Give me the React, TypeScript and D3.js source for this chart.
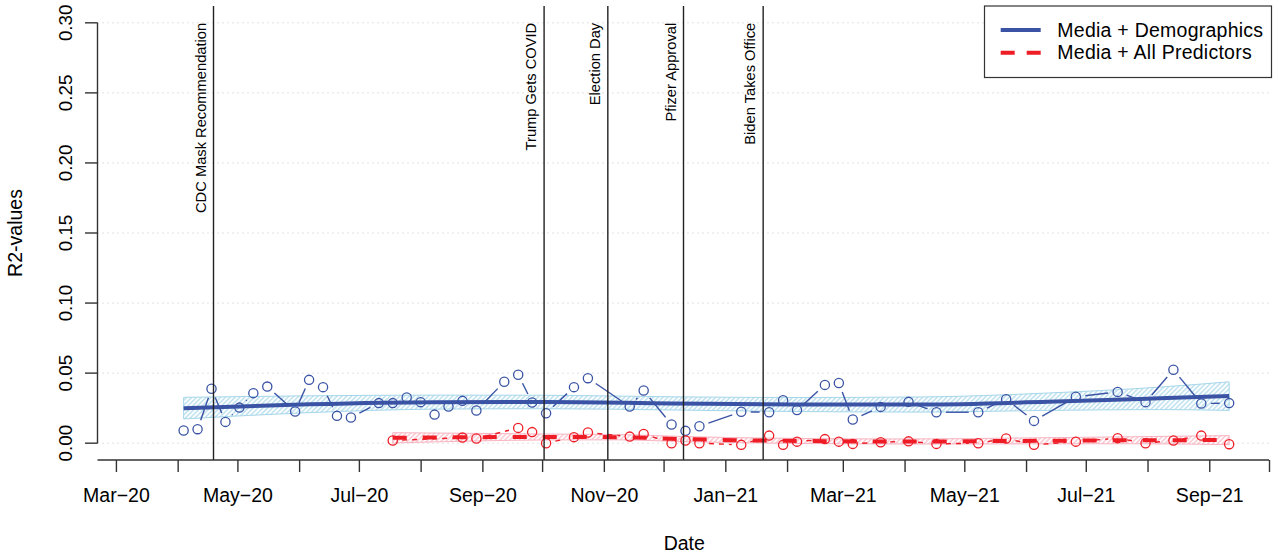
import { useEffect, useRef } from "react";
import * as d3 from "d3";

// weekly R2 values, Media + Demographics
const blueDates = [
  "2020-04-04", "2020-04-11", "2020-04-18", "2020-04-25", "2020-05-02", "2020-05-09", "2020-05-16",
  "2020-05-30", "2020-06-06", "2020-06-13", "2020-06-20", "2020-06-27", "2020-07-11", "2020-07-18",
  "2020-07-25", "2020-08-01", "2020-08-08", "2020-08-15", "2020-08-22", "2020-08-29", "2020-09-12",
  "2020-09-19", "2020-09-26", "2020-10-03", "2020-10-17", "2020-10-24", "2020-11-14", "2020-11-21",
  "2020-12-05", "2020-12-12", "2020-12-19", "2021-01-09", "2021-01-23", "2021-01-30", "2021-02-06",
  "2021-02-20", "2021-02-27", "2021-03-06", "2021-03-20", "2021-04-03", "2021-04-17", "2021-05-08",
  "2021-05-22", "2021-06-05", "2021-06-26", "2021-07-17", "2021-07-31", "2021-08-14", "2021-08-28",
  "2021-09-11",
];
const blueValues = [
  0.009, 0.01, 0.0388, 0.0152, 0.0254, 0.0357, 0.0404,
  0.0226, 0.0452, 0.04, 0.0195, 0.0183, 0.0286, 0.0286,
  0.0326, 0.0293, 0.0204, 0.0261, 0.0302, 0.0233, 0.0438,
  0.0488, 0.029, 0.0214, 0.04, 0.0464, 0.0261, 0.0376,
  0.0133, 0.0088, 0.0121, 0.0224, 0.0221, 0.0307, 0.0236,
  0.0416, 0.0429, 0.0169, 0.0259, 0.0295, 0.0221, 0.0221,
  0.0314, 0.0159, 0.0331, 0.0366, 0.0293, 0.0524, 0.0283,
  0.0286,
];

// weekly R2 values, Media + All Predictors
const redDates = [
  "2020-07-18", "2020-08-22", "2020-08-29", "2020-09-19", "2020-09-26", "2020-10-03", "2020-10-17",
  "2020-10-24", "2020-11-14", "2020-11-21", "2020-12-05", "2020-12-12", "2020-12-19", "2021-01-09",
  "2021-01-23", "2021-01-30", "2021-02-06", "2021-02-20", "2021-02-27", "2021-03-06", "2021-03-20",
  "2021-04-03", "2021-04-17", "2021-05-08", "2021-05-22", "2021-06-05", "2021-06-26", "2021-07-17",
  "2021-07-31", "2021-08-14", "2021-08-28", "2021-09-11",
];
const redValues = [
  0.0019, 0.004, 0.0033, 0.0109, 0.0079, 0.0, 0.0043,
  0.0076, 0.0047, 0.0066, 0.0, 0.0019, 0.0, -0.0012,
  0.0054, -0.0012, 0.0011, 0.0029, 0.0011, -0.0005, 0.0007,
  0.0013, -0.0005, 0.0, 0.0033, -0.0012, 0.0011, 0.0036,
  0.0, 0.0019, 0.0054, -0.0007,
];

// smoothed trend + confidence half-width
const blueSmoothDates = [
  "2020-04-04", "2020-06-06", "2020-08-08", "2020-10-03", "2020-12-05",
  "2021-02-06", "2021-04-10", "2021-06-12", "2021-08-07", "2021-09-11",
];
const blueSmoothFit = [0.025, 0.0278, 0.0293, 0.0294, 0.0284, 0.0276, 0.0276, 0.0296, 0.032, 0.0336];
const blueSmoothHalf = [0.0077, 0.006, 0.005, 0.0048, 0.0047, 0.005, 0.0054, 0.0062, 0.008, 0.0102];

const redSmoothDates = [
  "2020-07-18", "2020-08-29", "2020-10-03", "2020-11-07", "2020-12-12",
  "2021-02-06", "2021-04-03", "2021-05-29", "2021-07-24", "2021-09-11",
];
const redSmoothFit = [0.0038, 0.0043, 0.0044, 0.0043, 0.0029, 0.0016, 0.0012, 0.0016, 0.0021, 0.0022];
const redSmoothHalf = [0.0037, 0.0027, 0.0021, 0.0019, 0.0018, 0.0018, 0.0018, 0.0021, 0.0025, 0.0032];

// events
const eventDates = ["2020-04-19", "2020-10-02", "2020-11-03", "2020-12-11", "2021-01-20"];
const eventLabels = [
  "CDC Mask Recommendation",
  "Trump Gets COVID",
  "Election Day",
  "Pfizer Approval",
  "Biden Takes Office",
];

// axes
const monthTicks = [
  "2020-03-01", "2020-04-01", "2020-05-01", "2020-06-01", "2020-07-01", "2020-08-01", "2020-09-01",
  "2020-10-01", "2020-11-01", "2020-12-01", "2021-01-01", "2021-02-01", "2021-03-01", "2021-04-01",
  "2021-05-01", "2021-06-01", "2021-07-01", "2021-08-01", "2021-09-01", "2021-10-01",
];
const monthLabels = [
  "Mar\u221220", "", "May\u221220", "", "Jul\u221220", "", "Sep\u221220",
  "", "Nov\u221220", "", "Jan\u221221", "", "Mar\u221221", "",
  "May\u221221", "", "Jul\u221221", "", "Sep\u221221", "",
];
const yTicks = [0, 0.05, 0.1, 0.15, 0.2, 0.25, 0.3];
const yTickLabels = ["0.00", "0.05", "0.10", "0.15", "0.20", "0.25", "0.30"];
const xDomain = ["2020-02-20T18", "2021-10-02T00"];

const seriesNames = ["Media + Demographics", "Media + All Predictors"];

const FONT = "'Liberation Sans', Arial, Helvetica, sans-serif";
const BLUE = "#3A53A4";
const RED = "#EE1C25";
const BLUE_BAND = "#A6D6EA";
const RED_BAND = "#F8B4C1";

const parseDay = d3.utcParse("%Y-%m-%d");
const parseHour = d3.utcParse("%Y-%m-%dT%H");

export default function App() {
  const svgRef = useRef<SVGSVGElement>(null);

  useEffect(() => {
    document.body.style.margin = "0";
    if (!svgRef.current) return;
    const svg = d3.select(svgRef.current);
    svg.selectAll("*").remove();

    const left = 97.5, right = 1271, top = 6, bottom = 460;

    const x = d3
      .scaleUtc()
      .domain([parseHour(xDomain[0]) as Date, parseHour(xDomain[1]) as Date])
      .range([left, right]);
    const y = d3.scaleLinear().domain([-0.012, 0.312]).range([bottom, top]);

    const defs = svg.append("defs");
    const hatch = (id: string, color: string) => {
      defs
        .append("pattern")
        .attr("id", id)
        .attr("patternUnits", "userSpaceOnUse")
        .attr("width", 3.4)
        .attr("height", 3.4)
        .attr("patternTransform", "rotate(45)")
        .append("line")
        .attr("x1", 1.7)
        .attr("x2", 1.7)
        .attr("y1", 0)
        .attr("y2", 3.4)
        .attr("stroke", color)
        .attr("stroke-width", 1.1);
    };
    hatch("hatch-blue", BLUE_BAND);
    hatch("hatch-red", RED_BAND);

    // grid
    svg
      .append("g")
      .selectAll("line")
      .data(yTicks)
      .join("line")
      .attr("x1", left)
      .attr("x2", right)
      .attr("y1", (d) => y(d))
      .attr("y2", (d) => y(d))
      .attr("stroke", "#c4c4c4")
      .attr("stroke-width", 1)
      .attr("stroke-dasharray", "1,4");

    // smoother bands and lines
    const drawSmooth = (
      dates: string[],
      fit: number[],
      half: number[],
      band: string,
      pattern: string,
      color: string,
      dash: string | null
    ) => {
      const pts = dates.map((d, i) => ({ date: parseDay(d) as Date, fit: fit[i], half: half[i] }));
      const area = d3
        .area<(typeof pts)[number]>()
        .x((d) => x(d.date))
        .y0((d) => y(d.fit - d.half))
        .y1((d) => y(d.fit + d.half))
        .curve(d3.curveMonotoneX);
      svg
        .append("path")
        .attr("d", area(pts))
        .attr("fill", `url(#${pattern})`)
        .attr("stroke", band)
        .attr("stroke-width", 1);
      const line = d3
        .line<(typeof pts)[number]>()
        .x((d) => x(d.date))
        .y((d) => y(d.fit))
        .curve(d3.curveMonotoneX);
      svg
        .append("path")
        .attr("d", line(pts))
        .attr("fill", "none")
        .attr("stroke", color)
        .attr("stroke-width", 4)
        .attr("stroke-dasharray", dash);
    };
    drawSmooth(blueSmoothDates, blueSmoothFit, blueSmoothHalf, BLUE_BAND, "hatch-blue", BLUE, null);
    drawSmooth(redSmoothDates, redSmoothFit, redSmoothHalf, RED_BAND, "hatch-red", RED, "14,16");

    // points joined R type="b" style (gaps around symbols)
    const drawSeries = (dates: string[], values: number[], color: string, dash: string | null) => {
      const pts = dates.map((d, i) => [x(parseDay(d) as Date), y(values[i])] as [number, number]);
      const gap = 9.5;
      const g = svg.append("g");
      for (let i = 1; i < pts.length; i++) {
        const [x0, y0] = pts[i - 1];
        const [x1, y1] = pts[i];
        const len = Math.hypot(x1 - x0, y1 - y0);
        if (len <= 2 * gap) continue;
        const ux = (x1 - x0) / len, uy = (y1 - y0) / len;
        g.append("line")
          .attr("x1", x0 + ux * gap)
          .attr("y1", y0 + uy * gap)
          .attr("x2", x1 - ux * gap)
          .attr("y2", y1 - uy * gap)
          .attr("stroke", color)
          .attr("stroke-width", 1.4)
          .attr("stroke-dasharray", dash);
      }
      g.selectAll("circle")
        .data(pts)
        .join("circle")
        .attr("cx", (d) => d[0])
        .attr("cy", (d) => d[1])
        .attr("r", 4.6)
        .attr("fill", "none")
        .attr("stroke", color)
        .attr("stroke-width", 1.3);
    };
    drawSeries(blueDates, blueValues, BLUE, null);
    drawSeries(redDates, redValues, RED, "5,5");

    // event markers
    const ev = svg.append("g");
    eventDates.forEach((d, i) => {
      const ex = x(parseDay(d) as Date);
      ev.append("line")
        .attr("x1", ex)
        .attr("x2", ex)
        .attr("y1", top)
        .attr("y2", bottom)
        .attr("stroke", "#222")
        .attr("stroke-width", 1.4);
      ev.append("text")
        .attr("transform", `translate(${ex - 8},${y(0.3)}) rotate(-90)`)
        .attr("text-anchor", "end")
        .attr("font-family", FONT)
        .attr("font-size", 14.7)
        .attr("fill", "#000")
        .text(eventLabels[i]);
    });

    // x axis
    const xAxis = d3
      .axisBottom(x)
      .tickValues(monthTicks.map((d) => parseDay(d) as Date))
      .tickSize(12)
      .tickPadding(16)
      .tickFormat((_d, i) => monthLabels[i]);
    const gx = svg.append("g").attr("transform", `translate(0,${bottom})`).call(xAxis);
    gx.select(".domain").remove();
    gx.selectAll(".tick line").attr("stroke", "#333").attr("stroke-width", 1.4);
    gx.selectAll(".tick text")
      .attr("font-family", FONT)
      .attr("font-size", 19.5)
      .attr("fill", "#000");
    gx.append("line")
      .attr("x1", left)
      .attr("x2", x(parseDay(monthTicks[monthTicks.length - 1]) as Date))
      .attr("y1", 0)
      .attr("y2", 0)
      .attr("stroke", "#333")
      .attr("stroke-width", 1.4);

    // y axis
    const gy = svg.append("g");
    gy.append("line")
      .attr("x1", left)
      .attr("x2", left)
      .attr("y1", y(0))
      .attr("y2", y(0.3))
      .attr("stroke", "#333")
      .attr("stroke-width", 1.4);
    yTicks.forEach((t, i) => {
      gy.append("line")
        .attr("x1", left - 12.5)
        .attr("x2", left)
        .attr("y1", y(t))
        .attr("y2", y(t))
        .attr("stroke", "#333")
        .attr("stroke-width", 1.4);
      gy.append("text")
        .attr("transform", `translate(71.5,${y(t)}) rotate(-90)`)
        .attr("text-anchor", "middle")
        .attr("font-family", FONT)
        .attr("font-size", 18.8)
        .attr("fill", "#000")
        .text(yTickLabels[i]);
    });

    // axis titles
    svg
      .append("text")
      .attr("x", (left + right) / 2)
      .attr("y", 550)
      .attr("text-anchor", "middle")
      .attr("font-family", FONT)
      .attr("font-size", 19.5)
      .text("Date");
    svg
      .append("text")
      .attr("transform", `translate(21.5,${(top + bottom) / 2}) rotate(-90)`)
      .attr("text-anchor", "middle")
      .attr("font-family", FONT)
      .attr("font-size", 19.5)
      .text("R2-values");

    // legend
    const lg = svg.append("g");
    lg.append("rect")
      .attr("x", 984.5)
      .attr("y", 6)
      .attr("width", 287)
      .attr("height", 71.5)
      .attr("fill", "#fff")
      .attr("stroke", "#333")
      .attr("stroke-width", 1.2);
    const legendColors = [BLUE, RED];
    const legendDash = [null, "14,12"];
    seriesNames.forEach((name, i) => {
      const ly = 30 + i * 22.7;
      lg.append("line")
        .attr("x1", 1000.7)
        .attr("x2", 1040.7)
        .attr("y1", ly)
        .attr("y2", ly)
        .attr("stroke", legendColors[i])
        .attr("stroke-width", 4)
        .attr("stroke-dasharray", legendDash[i]);
      lg.append("text")
        .attr("x", 1057.3)
        .attr("y", ly + 6.5)
        .attr("font-family", FONT)
        .attr("font-size", 19.5)
        .attr("letter-spacing", 0.25)
        .attr("fill", "#000")
        .text(name);
    });
  }, []);

  return <svg ref={svgRef} width={1279} height={556} style={{ display: "block", background: "#fff" }} />;
}
